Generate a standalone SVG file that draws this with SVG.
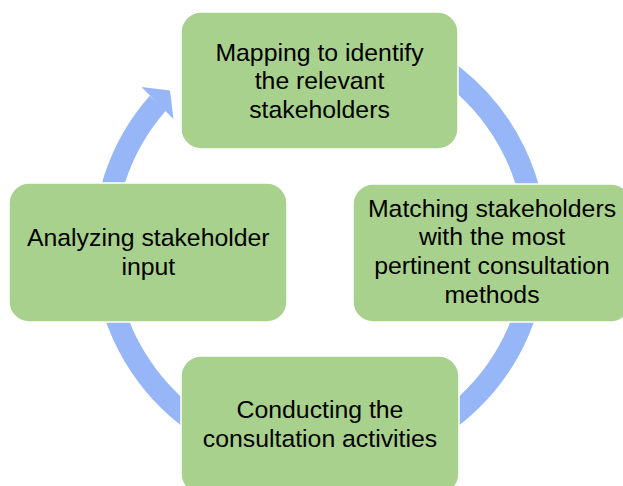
<svg xmlns="http://www.w3.org/2000/svg" width="623" height="486" viewBox="0 0 623 486">
<style>
.box{fill:#A9D18E;stroke:#fff;stroke-width:1.5;}
.lbl{font-family:"Liberation Sans",Arial,sans-serif;font-size:24.8px;fill:#000;text-anchor:middle;}
.ring{fill:none;stroke:#97B6F8;stroke-width:22;stroke-linecap:butt;}
.head{fill:#97B6F8;}
</style>
<rect width="623" height="486" fill="#fff"/>
<g id="connectors">
<path class="ring" d="M375.9,37.2 A216,216 0 1 1 158.0,103.0"/>
<polygon class="head" points="141.5,87 170,90.5 173.5,119"/>
</g>
<g id="node-mapping">
<rect class="box" x="181" y="12" width="277" height="137" rx="20"/>
<text class="lbl" x="319.5" y="61">Mapping to identify</text>
<text class="lbl" x="319.5" y="89.3">the relevant</text>
<text class="lbl" x="319.5" y="117.5">stakeholders</text>
</g>
<g id="node-matching">
<rect class="box" x="353" y="184" width="278" height="138" rx="20"/>
<text class="lbl" x="492" y="216.7">Matching stakeholders</text>
<text class="lbl" x="492" y="245">with the most</text>
<text class="lbl" x="492" y="273.8">pertinent consultation</text>
<text class="lbl" x="492" y="302.6">methods</text>
</g>
<g id="node-conducting">
<rect class="box" x="181" y="356" width="278" height="138" rx="20"/>
<text class="lbl" x="320" y="418.3">Conducting the</text>
<text class="lbl" x="320" y="446.7">consultation activities</text>
</g>
<g id="node-analyzing">
<rect class="box" x="9" y="183" width="278" height="139" rx="20"/>
<text class="lbl" x="148.3" y="246">Analyzing stakeholder</text>
<text class="lbl" x="148.3" y="275">input</text>
</g>
</svg>
